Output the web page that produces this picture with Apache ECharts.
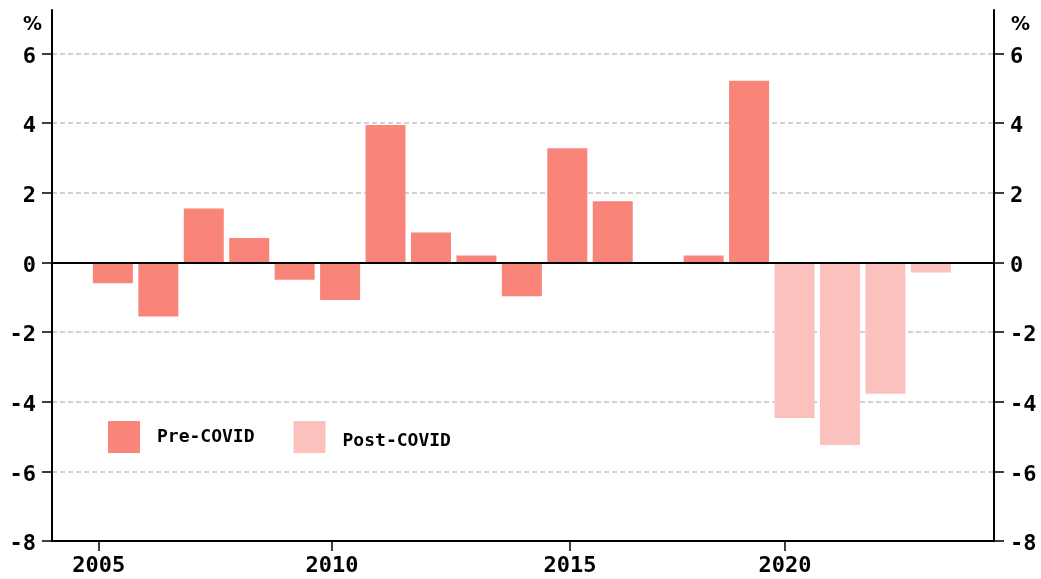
<!DOCTYPE html>
<html>
<head>
<meta charset="utf-8">
<script src="https://cdn.jsdelivr.net/npm/echarts@6/dist/echarts.min.js"></script>
<style>
html, body { margin: 0; padding: 0; background: #fff; }
#main { width: 1041px; height: 579px; }
</style>
</head>
<body>
<div id="main"></div>
<script>
// 数据
var preYears = [2005, 2006, 2007, 2008, 2009, 2010, 2011, 2012, 2013, 2014, 2015, 2016, 2017, 2018, 2019];
var preValues = [-0.6, -1.55, 1.55, 0.7, -0.5, -1.08, 3.95, 0.86, 0.2, -0.97, 3.28, 1.76, null, 0.2, 5.22];
var postYears = [2020, 2021, 2022, 2023];
var postValues = [-4.47, -5.24, -3.77, -0.29];
var tickYears = [2005, 2010, 2015, 2020];
var yTicks = [-8, -6, -4, -2, 0, 2, 4, 6];

var labelFont = 'DejaVu Sans Mono';
var preColor = '#F8847A';
var postColor = '#FAC1BD';

// 刻度位置（参照原图略有偏移）
var tickShift = [-0.31, -0.18, 0.06, -0.21];
var tickPos = tickYears.map(function (y, i) { return y + tickShift[i]; });

function pairs(xs, ys) {
	var out = [];
	for (var i = 0; i < xs.length; i++) {
		if (ys[i] != null) out.push([xs[i], ys[i]]);
	}
	return out;
}

var myChart = echarts.init(document.getElementById('main'));

var yAxisBase = {
	type: 'value',
	min: -8,
	max: 7.25,
	interval: 2,
	axisLine: { show: true, lineStyle: { color: '#000', width: 2 } },
	axisTick: { show: true, length: 10, customValues: yTicks, lineStyle: { color: '#000', width: 1.5 } },
	axisLabel: {
		customValues: yTicks,
		margin: 16,
		formatter: function (v) { return '{v|' + v + '}'; },
		rich: {
			v: { color: '#000', fontFamily: labelFont, fontWeight: 'bold', fontSize: 22, padding: [7, 0, 0, 0] }
		}
	}
};

option = {
	animation: false,
	backgroundColor: '#fff',
	grid: { left: 52, right: 47, top: 10, bottom: 38 },
	legend: {
		left: 108,
		top: 421,
		padding: 0,
		itemWidth: 32,
		itemHeight: 32,
		itemGap: 39,
		icon: 'rect',
		formatter: function (name) {
			return name === 'Post-COVID' ? '{lo|' + name + '}' : name;
		},
		textStyle: {
			fontFamily: labelFont,
			fontWeight: 'bold',
			fontSize: 18,
			color: '#000',
			padding: [0, 0, 0, 12],
			rich: {
				lo: { fontFamily: labelFont, fontWeight: 'bold', fontSize: 18, color: '#000', padding: [8, 0, 0, 0] }
			}
		},
		data: ['Pre-COVID', 'Post-COVID']
	},
	graphic: [
		{ type: 'text', left: 23, top: 16, style: { text: '%', font: 'bold 19px "DejaVu Sans"', fill: '#000' } },
		{ type: 'text', left: 1011, top: 16, style: { text: '%', font: 'bold 19px "DejaVu Sans"', fill: '#000' } }
	],
	xAxis: {
		type: 'value',
		min: 2003.66,
		max: 2024.39,
		splitLine: { show: false },
		axisLine: { onZero: false, lineStyle: { color: '#000', width: 2 } },
		axisTick: { show: true, length: 10, customValues: tickPos, lineStyle: { color: '#000', width: 1.5 } },
		axisLabel: {
			customValues: tickPos,
			margin: 14,
			color: '#000',
			fontFamily: labelFont,
			fontWeight: 'bold',
			fontSize: 22,
			formatter: function (v) { return String(Math.round(v)); }
		}
	},
	yAxis: [
		Object.assign({}, yAxisBase, {
			position: 'left',
			splitLine: { show: true, showMinLine: false, showMaxLine: true, lineStyle: { color: '#c4c4c4', width: 1.5, type: [5, 3] } }
		}),
		Object.assign({}, yAxisBase, {
			position: 'right',
			splitLine: { show: false }
		})
	],
	series: [
		{
			name: 'Pre-COVID',
			type: 'bar',
			barWidth: 40,
			barGap: '-100%',
			itemStyle: { color: preColor },
			data: pairs(preYears, preValues),
			markLine: {
				silent: true,
				symbol: 'none',
				label: { show: false },
				lineStyle: { color: '#000', width: 2, type: 'solid' },
				data: [{ yAxis: 0 }]
			}
		},
		{
			name: 'Post-COVID',
			type: 'bar',
			barWidth: 40,
			barGap: '-100%',
			itemStyle: { color: postColor },
			data: pairs(postYears, postValues)
		}
	]
};

myChart.setOption(option);
</script>
</body>
</html>
